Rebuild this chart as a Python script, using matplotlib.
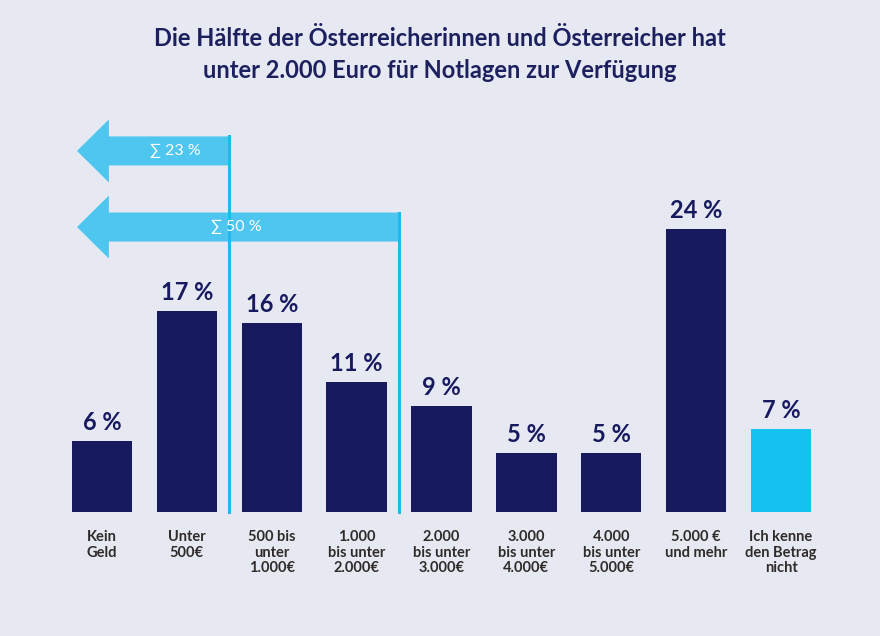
import matplotlib
matplotlib.use("Agg")
import matplotlib.pyplot as plt
from matplotlib.patches import Polygon
import numpy as np

categories = ["Kein\nGeld", "Unter\n500€", "500 bis\nunter\n1.000€", "1.000\nbis unter\n2.000€",
              "2.000\nbis unter\n3.000€", "3.000\nbis unter\n4.000€", "4.000\nbis unter\n5.000€",
              "5.000 €\nund mehr", "Ich kenne\nden Betrag\nnicht"]
values = [6, 17, 16, 11, 9, 5, 5, 24, 7]
# cumulative brackets shown as arrows: number of categories summed
sum_groups = [2, 4]

BG = "#e6e9f1"
NAVY = "#171a5e"
CYAN = "#14c1f0"
ARROW = "#4fc6ef"
LINE = "#22b8ea"
TXT = "#2e2b2a"

plt.rcParams['font.family'] = ['Lato', 'DejaVu Sans']

fig = plt.figure(figsize=(8.8, 6.36), dpi=100, facecolor=BG)
ax = fig.add_axes([59.5 / 880, 124 / 636, 764 / 880, 377.6 / 636])
ax.set_facecolor(BG)

x = np.arange(len(values))
colors = [NAVY] * (len(values) - 1) + [CYAN]
ax.bar(x, values, width=0.71, color=colors, zorder=2)

for xi, v in zip(x, values):
    ax.text(xi, v + 0.6, f"{v} %", ha="center", va="bottom", fontsize=17,
            fontweight="bold", color=NAVY)

ax.set_xlim(-0.5, len(values) - 0.5)
ax.set_ylim(0, 32)
for s in ax.spines.values():
    s.set_visible(False)
ax.set_yticks([])
ax.set_xticks(x)
ax.set_xticklabels(categories, fontsize=10.5, fontweight="bold", color=TXT, linespacing=1.15,
                   va="top")
ax.tick_params(axis="x", length=0, pad=13)

# cumulative arrows
arrow_y = [30.6, 24.15]
text_x = [0.86, 1.58]
body_h = 1.23
head_h = 2.67
tip = -0.294
head_base = 0.082
for n, yc, tx in zip(sum_groups, arrow_y, text_x):
    right = n - 0.5
    total = sum(values[:n])
    pts = [(tip, yc), (head_base, yc + head_h), (head_base, yc + body_h), (right, yc + body_h),
           (right, yc - body_h), (head_base, yc - body_h), (head_base, yc - head_h)]
    ax.add_patch(Polygon(pts, closed=True, facecolor=ARROW, edgecolor="none", zorder=3,
                         clip_on=False))
    ax.plot([right, right], [0, yc + body_h], color=LINE, lw=2.2, zorder=4, clip_on=False)
    ax.text(tx, yc, f"\u2211 {total} %", ha="center", va="center", fontsize=11.5,
            color="white", zorder=5, family=['Lato', 'DejaVu Sans'])

fig.text(0.5, 1 - 38 / 636, "Die Hälfte der Österreicherinnen und Österreicher hat",
         ha="center", va="center", fontsize=17, fontweight="bold", color="#1d205f")
fig.text(0.5, 1 - 70 / 636, "unter 2.000 Euro für Notlagen zur Verfügung",
         ha="center", va="center", fontsize=17, fontweight="bold", color="#1d205f")

fig.savefig("out.png", dpi=100, facecolor=BG)
